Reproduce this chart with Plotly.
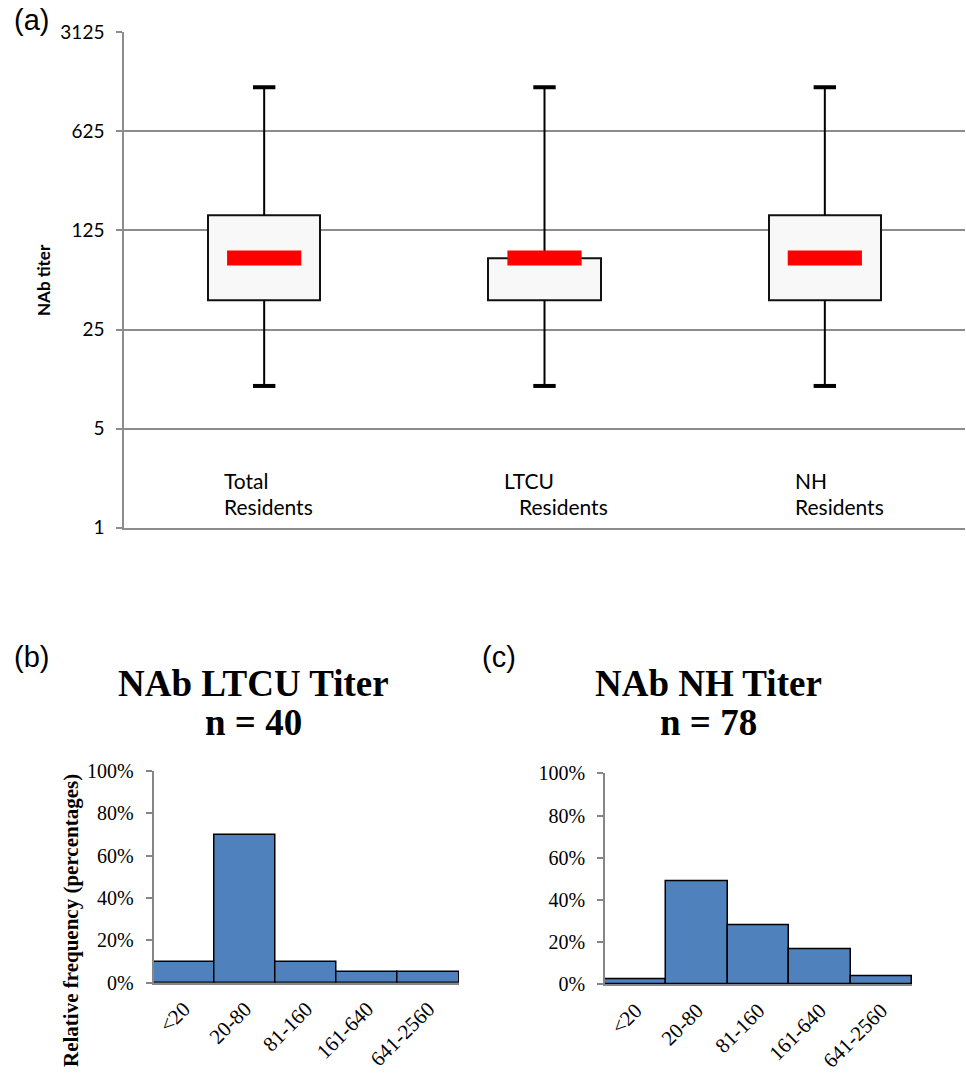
import plotly.graph_objects as go

# ---------------- data ----------------
groups = ["Total Residents", "LTCU Residents", "NH Residents"]
group_line1 = ["Total", "LTCU", "NH"]
group_line2 = ["Residents", "Residents", "Residents"]
whisker_low = [10, 10, 10]
q1 = [40, 40, 40]
median = [80, 80, 80]
q3 = [160, 80, 160]
whisker_high = [1280, 1280, 1280]
titer_ticks = [1, 5, 25, 125, 625, 3125]
titer_tick_text = ["1", "5", "25", "125", "625", "3125"]

bins = ["<20", "20-80", "81-160", "161-640", "641-2560"]
ltcu_pct = [10, 70, 10, 5, 5]
nh_pct = [2.5, 48.6, 28.2, 16.4, 3.6]
pct_ticks = [0, 20, 40, 60, 80, 100]
pct_tick_text = [f"{v}%" for v in pct_ticks]

W, H = 966, 1073


def px_x(p):
    return p / W


def px_y(p):
    return (H - p) / H


fig = go.Figure()

# ---------- panel (a) ----------
wx, wy = [], []
for g, lo, a, b, hi in zip(groups, whisker_low, q1, q3, whisker_high):
    wx += [g, g, None, g, g, None]
    wy += [lo, a, None, b, hi, None]
fig.add_trace(go.Scatter(x=wx, y=wy, mode="lines", line=dict(color="black", width=2),
                         xaxis="x", yaxis="y", hoverinfo="skip"))
fig.add_trace(go.Bar(x=groups, base=q1, y=[b - a for a, b in zip(q1, q3)], width=0.4,
                     marker=dict(color="#F8F8F8", line=dict(color="#111111", width=2)),
                     xaxis="x", yaxis="y"))
fig.add_trace(go.Scatter(x=groups + groups, y=whisker_low + whisker_high, mode="markers",
                         marker=dict(symbol="line-ew", size=16,
                                     line=dict(color="black", width=4)),
                         xaxis="x", yaxis="y"))
fig.add_trace(go.Scatter(x=groups, y=median, mode="markers",
                         marker=dict(symbol="line-ew", size=53,
                                     line=dict(color="#FF0000", width=15)),
                         xaxis="x", yaxis="y"))

# ---------- panel (b) ----------
fig.add_trace(go.Bar(x=bins, y=ltcu_pct, width=1.0,
                     marker=dict(color="#4F81BD", line=dict(color="black", width=1.5)),
                     xaxis="x2", yaxis="y2"))
# ---------- panel (c) ----------
fig.add_trace(go.Bar(x=bins, y=nh_pct, width=1.0,
                     marker=dict(color="#4F81BD", line=dict(color="black", width=1.5)),
                     xaxis="x3", yaxis="y3"))

grid_gray = "#8C8C8C"
axis_gray = "#868686"
calibri = "Lato, Open Sans, sans-serif"
times = "Liberation Serif, Times New Roman, serif"

fig.update_layout(
    width=W, height=H,
    margin=dict(l=0, r=0, t=0, b=0, autoexpand=False),
    paper_bgcolor="white", plot_bgcolor="white",
    showlegend=False, bargap=0,
    font=dict(family=calibri, color="black"),
    xaxis=dict(domain=[px_x(124), px_x(965)], range=[-0.5, 2.5], type="category",
               showticklabels=False, ticks="", showgrid=False, zeroline=False,
               showline=True, linecolor=grid_gray, linewidth=1.5, anchor="y",
               automargin=False),
    yaxis=dict(domain=[px_y(527.7), px_y(32.3)], type="log", range=[0, 3.49485],
               tickvals=titer_ticks, ticktext=titer_tick_text,
               showgrid=True, gridcolor=grid_gray, gridwidth=1.5,
               showline=True, linecolor=grid_gray, linewidth=1.5,
               ticks="outside", ticklen=6, tickcolor=grid_gray, tickwidth=1.5,
               ticklabelstandoff=8, zeroline=False, automargin=False,
               tickfont=dict(family=calibri, size=19, color="black"), anchor="x"),
    xaxis2=dict(domain=[px_x(153.5), px_x(459)], range=[-0.5, 4.5], type="category",
                ticks="", tickangle=-45, showgrid=False, zeroline=False,
                showline=True, linecolor=axis_gray, linewidth=1.5,
                ticklabelstandoff=4, automargin=False,
                tickfont=dict(family=times, size=21, color="black"), anchor="y2"),
    yaxis2=dict(domain=[px_y(982.7), px_y(771)], range=[0, 100], tickvals=pct_ticks,
                ticktext=pct_tick_text, showgrid=False, zeroline=False,
                showline=True, linecolor=axis_gray, linewidth=1.5,
                ticks="outside", ticklen=6, tickcolor=axis_gray, tickwidth=1.5,
                ticklabelstandoff=8, automargin=False,
                tickfont=dict(family=times, size=20, color="black"), anchor="x2"),
    xaxis3=dict(domain=[px_x(605), px_x(912)], range=[-0.5, 4.5], type="category",
                ticks="", tickangle=-45, showgrid=False, zeroline=False,
                showline=True, linecolor=axis_gray, linewidth=1.5,
                ticklabelstandoff=4, automargin=False,
                tickfont=dict(family=times, size=21, color="black"), anchor="y3"),
    yaxis3=dict(domain=[px_y(984.3), px_y(773.3)], range=[0, 100], tickvals=pct_ticks,
                ticktext=pct_tick_text, showgrid=False, zeroline=False,
                showline=True, linecolor=axis_gray, linewidth=1.5,
                ticks="outside", ticklen=6, tickcolor=axis_gray, tickwidth=1.5,
                ticklabelstandoff=8, automargin=False,
                tickfont=dict(family=times, size=20, color="black"), anchor="x3"),
)

ann = []
# panel letters
for txt, x, y in [("(a)", 12, 20), ("(b)", 12, 657), ("(c)", 480, 657)]:
    ann.append(dict(text=txt, x=px_x(x), y=px_y(y), xref="paper", yref="paper",
                    xanchor="left", yanchor="middle", showarrow=False,
                    font=dict(family="Liberation Sans, Arial, sans-serif", size=29, color="black")))
# category labels in (a)
shift1 = [-42, -43, -32]
shift2 = [-42, -28, -32]
for i in range(len(groups)):
    ann.append(dict(text=group_line1[i], x=i, y=px_y(480), xref="x", yref="paper",
                    xanchor="left", yanchor="middle", xshift=shift1[i], showarrow=False,
                    font=dict(family=calibri, size=21, color="black")))
    ann.append(dict(text=group_line2[i], x=i, y=px_y(507), xref="x", yref="paper",
                    xanchor="left", yanchor="middle", xshift=shift2[i], showarrow=False,
                    font=dict(family=calibri, size=21, color="black")))
# y title (a)
ann.append(dict(text="<b>NAb titer</b>", x=px_x(44), y=px_y(280), xref="paper", yref="paper",
                textangle=-90, showarrow=False, xanchor="center", yanchor="middle",
                font=dict(family=calibri, size=17, color="black")))
# titles (b) and (c)
for l1, l2, cx in [("NAb LTCU Titer", "n = 40", 254), ("NAb NH Titer", "n = 78", 708)]:
    ann.append(dict(text="<b>" + l1 + "</b>", x=px_x(cx), y=px_y(683), xref="paper", yref="paper",
                    showarrow=False, xanchor="center", yanchor="middle",
                    font=dict(family=times, size=37, color="black")))
    ann.append(dict(text="<b>" + l2 + "</b>", x=px_x(cx), y=px_y(722), xref="paper", yref="paper",
                    showarrow=False, xanchor="center", yanchor="middle",
                    font=dict(family=times, size=37, color="black")))
# y title (b)
ann.append(dict(text="<b>Relative frequency (percentages)</b>", x=px_x(71), y=px_y(921),
                xref="paper", yref="paper", textangle=-90, showarrow=False,
                xanchor="center", yanchor="middle",
                font=dict(family=times, size=21, color="black")))
fig.update_layout(annotations=ann)

fig.write_html("out.html", config={"displayModeBar": False},
               post_script="document.body.style.margin='0';document.body.style.overflow='hidden';")
